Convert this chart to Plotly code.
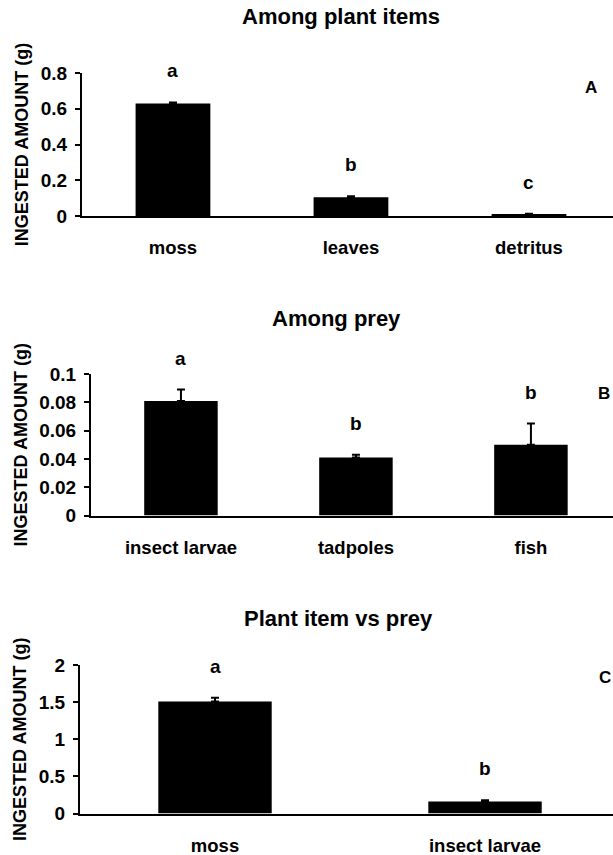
import plotly.graph_objects as go

# ---- data ----
cats_a = ["moss", "leaves", "detritus"]
vals_a = [0.63, 0.105, 0.008]
err_a = [0.005, 0.005, 0.005]
letters_a = ["a", "b", "c"]

cats_b = ["insect larvae", "tadpoles", "fish"]
vals_b = [0.081, 0.041, 0.050]
err_b = [0.008, 0.002, 0.015]
letters_b = ["a", "b", "b"]

cats_c = ["moss", "insect larvae"]
vals_c = [1.51, 0.16]
err_c = [0.05, 0.02]
letters_c = ["a", "b"]

ticks_a = [0, 0.2, 0.4, 0.6, 0.8]
ticklab_a = ["0", "0.2", "0.4", "0.6", "0.8"]
ticks_b = [0, 0.02, 0.04, 0.06, 0.08, 0.1]
ticklab_b = ["0", "0.02", "0.04", "0.06", "0.08", "0.1"]
ticks_c = [0, 0.5, 1, 1.5, 2]
ticklab_c = ["0", "0.5", "1", "1.5", "2"]

titles = ["Among plant items", "Among prey", "Plant item vs prey"]
panel_letters = ["A", "B", "C"]
ytitle = "INGESTED AMOUNT (g)"

W, H = 613, 855
FONT = "Liberation Sans, Arial, sans-serif"

def px_x(x):
    return x / W

def px_y(y):
    return 1 - y / H

panels = [
    dict(c=cats_a, v=vals_a, e=err_a, l=letters_a, tv=ticks_a, tt=ticklab_a, rng=[0, 0.8],
         xrng=[-0.511, 2.472],
         xdom=[px_x(82), 1.0], ydom=[px_y(216), px_y(73)], title_xy=(341, 17),
         letter_xy=(591, 88)),
    dict(c=cats_b, v=vals_b, e=err_b, l=letters_b, tv=ticks_b, tt=ticklab_b, rng=[0, 0.1],
         xrng=[-0.514, 2.469],
         xdom=[px_x(91), 1.0], ydom=[px_y(515.5), px_y(374)], title_xy=(336, 318),
         letter_xy=(604, 393)),
    dict(c=cats_c, v=vals_c, e=err_c, l=letters_c, tv=ticks_c, tt=ticklab_c, rng=[0, 2],
         xrng=[-0.5, 1.474],
         xdom=[px_x(80), 1.0], ydom=[px_y(813.5), px_y(665)], title_xy=(338, 618),
         letter_xy=(605, 677)),
]

fig = go.Figure()
annotations = []
for i, p in enumerate(panels):
    n = "" if i == 0 else str(i + 1)
    xa, ya = "x" + n, "y" + n
    fig.add_trace(go.Bar(
        x=p["c"], y=p["v"], xaxis=xa, yaxis=ya,
        marker=dict(color="black", line=dict(width=0)),
        error_y=dict(type="data", array=p["e"], arrayminus=[0] * len(p["e"]),
                     symmetric=False, color="black", thickness=2, width=4),
        showlegend=False, hoverinfo="skip",
    ))
    fig.layout["xaxis" + n] = dict(
        domain=p["xdom"], anchor=ya, range=p["xrng"], showline=True, linecolor="black",
        linewidth=2, ticks="", showgrid=False, zeroline=False, ticklabelstandoff=14,
        automargin=False,
        tickfont=dict(family=FONT, size=18.5, color="black", weight="bold"),
    )
    fig.layout["yaxis" + n] = dict(
        domain=p["ydom"], anchor=xa, range=p["rng"], showline=True, linecolor="black",
        linewidth=2, ticks="outside", ticklen=5, tickwidth=2, tickcolor="black",
        tickvals=p["tv"], ticktext=p["tt"], showgrid=False, zeroline=False,
        ticklabelstandoff=4, automargin=False,
        tickfont=dict(family=FONT, size=19, color="black", weight="bold"),
        title=dict(text=ytitle, standoff=7,
                   font=dict(family=FONT, size=18, color="black", weight="bold")),
    )
    for cat, v, e, lt in zip(p["c"], p["v"], p["e"], p["l"]):
        annotations.append(dict(
            x=cat, y=v + e, xref=xa, yref=ya, text=lt, showarrow=False,
            yanchor="bottom", yshift=19,
            font=dict(family=FONT, size=19, color="black", weight="bold"),
        ))
    tx, ty = p["title_xy"]
    annotations.append(dict(
        x=px_x(tx), y=px_y(ty), xref="paper", yref="paper",
        text=titles[i], showarrow=False, xanchor="center", yanchor="middle",
        font=dict(family=FONT, size=22, color="black", weight="bold"),
    ))
    lx, ly = p["letter_xy"]
    annotations.append(dict(
        x=px_x(lx), y=px_y(ly), xref="paper", yref="paper",
        text=panel_letters[i], showarrow=False, xanchor="center", yanchor="middle",
        font=dict(family=FONT, size=17, color="black", weight="bold"),
    ))

fig.update_layout(
    template="none",
    width=W, height=H, margin=dict(l=0, r=0, t=0, b=0, autoexpand=False),
    paper_bgcolor="white", plot_bgcolor="white", bargap=0.58,
    annotations=annotations, showlegend=False,
)
fig.write_html(
    "out.html",
    config={"displayModeBar": False},
    post_script="document.body.style.margin='0';document.body.style.overflow='hidden';",
)
